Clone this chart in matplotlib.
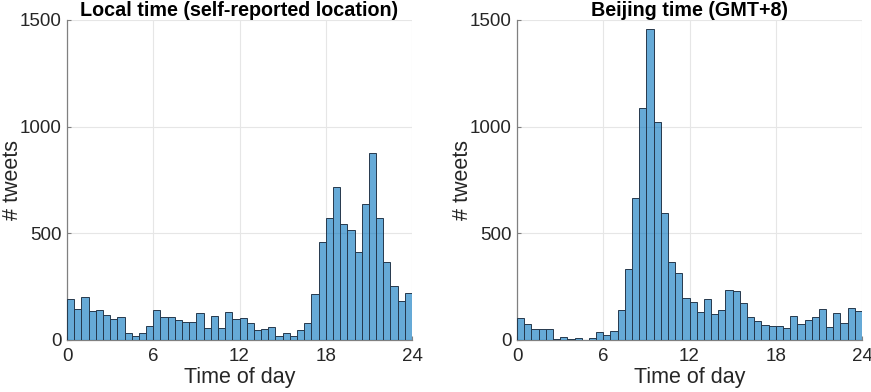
import matplotlib
matplotlib.use("Agg")
import matplotlib.pyplot as plt
import numpy as np

# half-hour bins, 0..24 h
bin_edges = np.arange(0, 24.5, 0.5)

local_counts = [190, 144, 201, 136, 141, 117, 98, 108, 33, 17, 31, 64,
                139, 106, 106, 95, 84, 84, 128, 56, 111, 56, 133, 97,
                102, 81, 45, 50, 61, 19, 34, 17, 45, 81, 216, 458,
                570, 716, 542, 514, 411, 636, 875, 573, 364, 255, 181, 220]

beijing_counts = [102, 77, 50, 52, 52, 4, 13, 3, 8, 2, 8, 38,
                  22, 41, 139, 335, 666, 1089, 1460, 1022, 595, 364, 313, 196,
                  177, 131, 192, 120, 142, 236, 230, 175, 108, 89, 72, 66,
                  64, 58, 111, 73, 94, 108, 145, 61, 127, 80, 152, 136]

titles = ["Local time (self-reported location)", "Beijing time (GMT+8)"]
x_ticks = [0, 6, 12, 18, 24]
y_ticks = [0, 500, 1000, 1500]
x_label = "Time of day"
y_label = "# tweets"

plt.rcParams['font.family'] = ['Liberation Sans', 'DejaVu Sans']

fig = plt.figure(figsize=(8.71, 3.92), dpi=100)
positions = [[67/871, 52/392, 345/871, 320/392],
             [517/871, 52/392, 345/871, 320/392]]

face = (0.0, 0.447, 0.741, 0.6)
edge = '#26394d'
text_col = '#262626'
axis_col = '#808080'

for pos, counts, title in zip(positions, [local_counts, beijing_counts], titles):
    ax = fig.add_axes(pos)
    ax.bar(bin_edges[:-1], counts, width=np.diff(bin_edges), align='edge',
           color=face, edgecolor=edge, linewidth=0.7, zorder=3)
    ax.set_xlim(0, 24)
    ax.set_ylim(0, 1500)
    ax.set_xticks(x_ticks)
    ax.set_yticks(y_ticks)
    ax.grid(True, color='#e6e6e6', linewidth=0.8, zorder=0)
    ax.set_axisbelow(True)
    for s in ['top', 'right']:
        ax.spines[s].set_visible(False)
    for s in ['left', 'bottom']:
        ax.spines[s].set_color(axis_col)
        ax.spines[s].set_linewidth(0.9)
    ax.tick_params(direction='in', length=3, color=axis_col,
                   labelsize=13.5, labelcolor=text_col)
    ax.tick_params(axis='x', pad=6)
    ax.tick_params(axis='y', pad=4)
    ax.set_xlabel(x_label, fontsize=15.5, color=text_col, labelpad=1)
    ax.set_ylabel(y_label, fontsize=15.5, color=text_col)
    ax.yaxis.set_label_coords(-0.128, 0.5)
    ax.set_title(title, fontsize=14.2, fontweight='bold', color='black', pad=3)

fig.savefig("out.png", dpi=100)
